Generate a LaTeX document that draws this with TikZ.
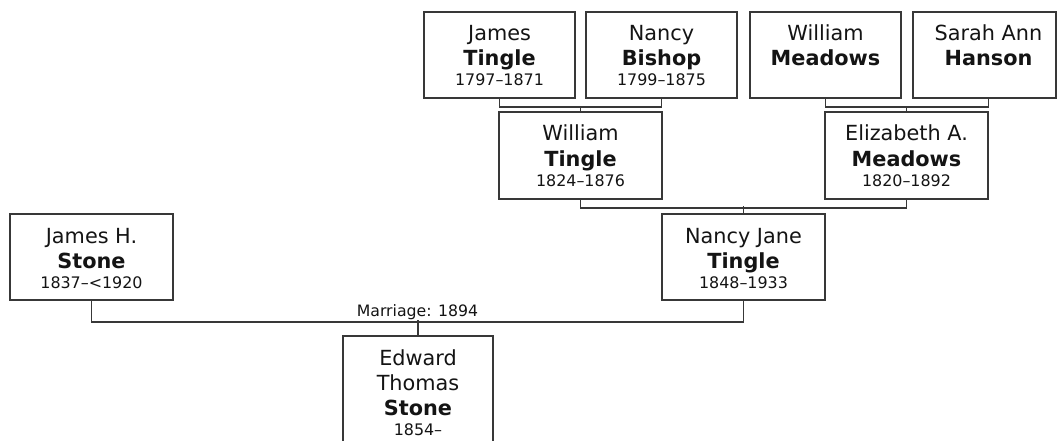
\documentclass[tikz,border=0pt]{standalone}
\usepackage{fontspec}
\setmainfont{DejaVu Sans}
\definecolor{ln}{HTML}{383838}
\definecolor{tx}{HTML}{141414}
\newcommand{\fambox}[5]{\node[personbox,minimum width={#4pt-#2pt},minimum height={#5pt-#3pt}] (#1) at ({(#2+#4)/2},{(#3+#5)/2}) {};}
\begin{document}
\begin{tikzpicture}[x=1pt,y=-1pt,
  personbox/.style={draw=ln,line width=1.6pt,fill=white,inner sep=0pt,rectangle},
  given/.style={anchor=base,inner sep=0pt,text=tx,font=\fontsize{20.8}{24}\selectfont},
  family/.style={anchor=base,inner sep=0pt,text=tx,font=\fontsize{20.8}{24}\selectfont\bfseries},
  years/.style={anchor=base,inner sep=0pt,text=tx,font=\fontsize{15.9}{18}\selectfont},
  lbl/.style={anchor=base,inner sep=0pt,text=tx,font=\fontsize{15.7}{18}\selectfont},
  link/.style={draw=ln,line width=1.6pt}]
\useasboundingbox (0,0) rectangle (1057,441);
\fill[white] (0,0) rectangle (1057,441);
\clip (0,0) rectangle (1057,441);

% boxes
\fambox{jt}{424}{12}{575}{98}
\fambox{nb}{586}{12}{737}{98}
\fambox{wm}{750}{12}{901}{98}
\fambox{sh}{913}{12}{1056.2}{98}
\fambox{wt}{499}{112}{662}{199}
\fambox{em}{825}{112}{988}{199}
\fambox{js}{10}{214}{173}{300}
\fambox{nj}{662}{214}{825}{300}
\fambox{et}{343}{336}{493}{470}

% texts
\node[given]  (jt-a) at (499.5,41) {James};
\node[family] (jt-b) at (499.5,66) {Tingle};
\node[years]  (jt-c) at (499.5,86) {1797–1871};

\node[given]  (nb-a) at (661.5,41) {Nancy};
\node[family] (nb-b) at (661.5,66) {Bishop};
\node[years]  (nb-c) at (661.5,86) {1799–1875};

\node[given]  (wm-a) at (825.5,41) {William};
\node[family] (wm-b) at (825.5,66) {Meadows};

\node[given]  (sh-a) at (988.5,41) {Sarah Ann};
\node[family] (sh-b) at (988.5,66) {Hanson};

\node[given]  (wt-a) at (580.5,141) {William};
\node[family] (wt-b) at (580.5,166) {Tingle};
\node[years]  (wt-c) at (580.5,186) {1824–1876};

\node[given]  (em-a) at (906.5,141) {Elizabeth A.};
\node[family] (em-b) at (906.5,166) {Meadows};
\node[years]  (em-c) at (906.5,186) {1820–1892};

\node[given]  (js-a) at (91.5,243) {James H.};
\node[family] (js-b) at (91.5,268) {Stone};
\node[years]  (js-c) at (91.5,288) {1837–<1920};

\node[given]  (nj-a) at (743.5,243) {Nancy Jane};
\node[family] (nj-b) at (743.5,268) {Tingle};
\node[years]  (nj-c) at (743.5,288) {1848–1933};

\node[given]  (et-a) at (418,365) {Edward};
\node[given]  (et-b) at (418,390) {Thomas};
\node[family] (et-c) at (418,415) {Stone};
\node[years]  (et-d) at (418,435) {1854–};

% connectors
\draw[link] (jt.south) -- ++(0,8.5) -| (nb.south);
\draw[link] (wt.north) -- ++(0,-5.5);
\draw[link] (wm.south) -- ++(0,8.5) -| (sh-b |- sh.south);
\draw[link] (em.north) -- ++(0,-5.5);
\draw[link] (wt.south) -- ++(0,8) -| (em.south);
\draw[link] (nj.north) -- ++(0,-7);
\draw[link] (js.south) -- ++(0,21) -| (nj.south);
\draw[link] (et.north) -- ++(0,-15);
\node[lbl] (mar) at (417.5,316.5) {Marriage: 1894};
\end{tikzpicture}
\end{document}
